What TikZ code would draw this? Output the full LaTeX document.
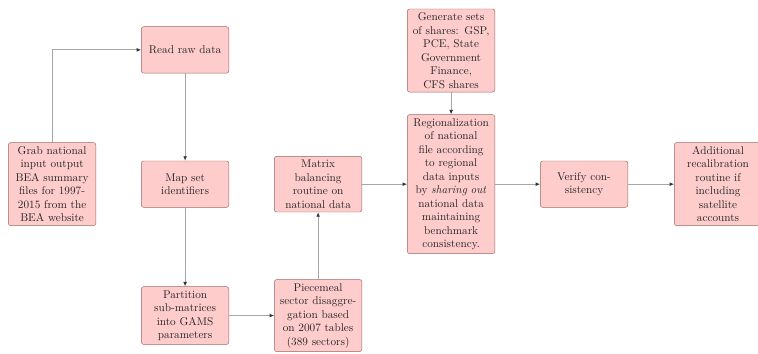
\documentclass[tikz,border=0pt]{standalone}
\usetikzlibrary{arrows.meta}

\tikzset{
  stage/.style={draw=gray!80!red, fill=red!20, rounded corners=2pt,
    text width=2.5cm, align=center, minimum height=1.45cm,
    text=black!85, font=\normalsize},
  flow/.style={draw=gray!70, thick, -{Latex[length=1.4mm,width=1.2mm,color=black!80]}}
}

\begin{document}
\begin{tikzpicture}
  \useasboundingbox (0,0) rectangle (23.71,-11.07);

  \node[stage] (grab) at (1.63,-5.76) {Grab national\\ input output\\ BEA summary\\ files for 1997-\\ 2015 from the\\ BEA website};
  \node[stage] (read) at (5.79,-1.56) {Read raw data};
  \node[stage] (map) at (5.79,-5.76) {Map set\\ identifiers};
  \node[stage] (part) at (5.79,-9.87) {Partition\\ sub-matrices\\ into GAMS\\ parameters};
  \node[stage] (piece) at (9.95,-9.87) {Piecemeal\\ sector disaggre-\\ gation based\\ on 2007 tables\\ (389 sectors)};
  \node[stage] (matrix) at (9.95,-5.76) {Matrix\\ balancing\\ routine on\\ national data};
  \node[stage] (shares) at (14.11,-1.58) {Generate sets\\ of shares: GSP,\\ PCE, State\\ Government\\ Finance,\\ CFS shares};
  \node[stage] (region) at (14.11,-5.76) {Regionalization\\ of national\\ file according\\ to regional\\ data inputs\\ by \emph{sharing out}\\ national data\\ maintaining\\ benchmark\\ consistency.};
  \node[stage] (verify) at (18.27,-5.76) {Verify con-\\ sistency};
  \node[stage] (recal) at (22.46,-5.76) {Additional\\ recalibration\\ routine if\\ including\\ satellite\\ accounts};

  % connectors
  \draw[flow] (grab.north) |- (read.west);
  \draw[flow] (read) -- (map);
  \draw[flow] (map) -- (part);
  \draw[flow] (part) -- (piece);
  \draw[flow] (piece) -- (matrix);
  \draw[flow] (matrix) -- (region);
  \draw[flow] (shares) -- (region);
  \draw[flow] (region) -- (verify);
  \draw[flow] (verify) -- (recal);
\end{tikzpicture}
\end{document}
